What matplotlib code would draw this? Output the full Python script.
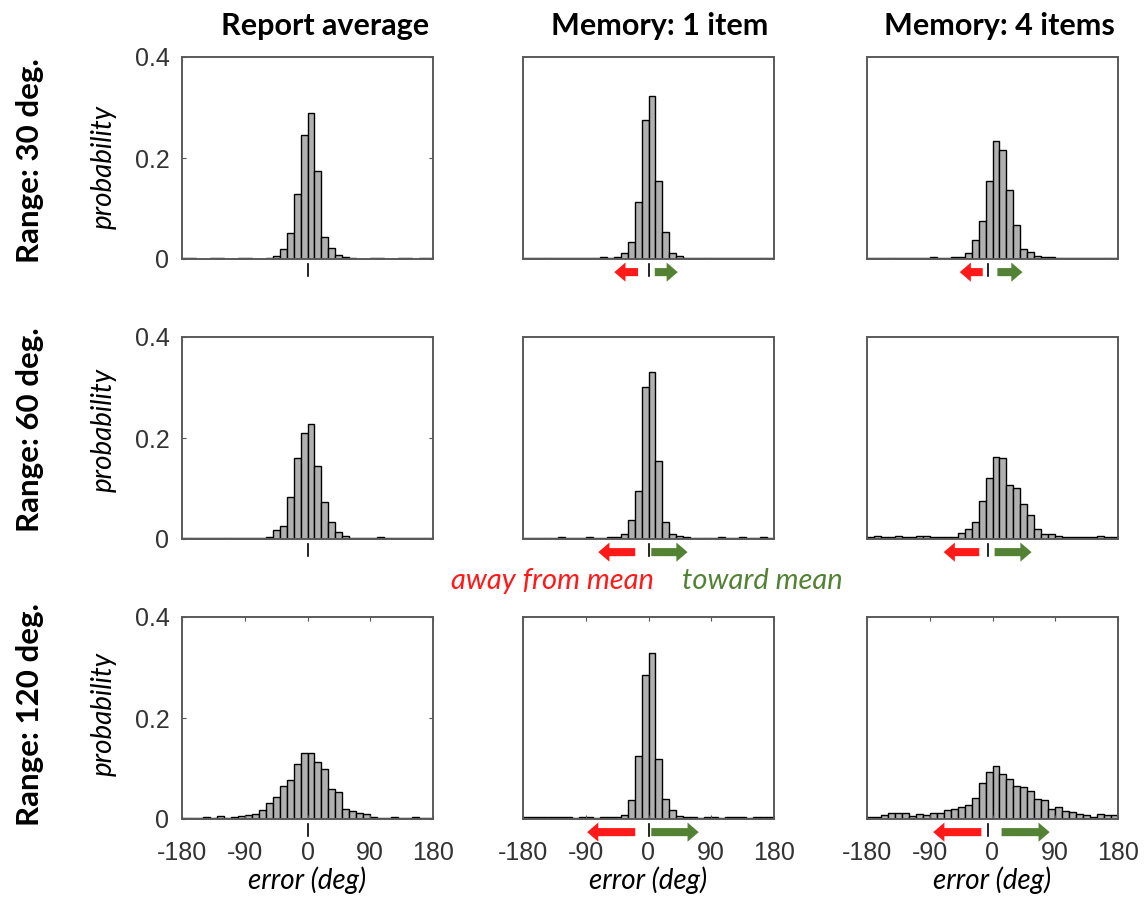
import numpy as np
import matplotlib
matplotlib.use("Agg")
import matplotlib.pyplot as plt
from matplotlib.patches import FancyArrow

# bins of 10 deg from -180 to 180
bin_edges = np.arange(-180, 181, 10)
col_titles = ["Report average", "Memory: 1 item", "Memory: 4 items"]
row_labels = ["Range: 30 deg.", "Range: 60 deg.", "Range: 120 deg."]
xtick_vals = [-180, -90, 0, 90, 180]
xtick_labels = ["-180", "-90", "0", "90", "180"]
ytick_vals = [0, 0.2, 0.4]
ytick_labels = ["0", "0.2", "0.4"]

# probability per bin (36 bins)
r30_avg = [0.002, 0.002, 0, 0, 0.002, 0.002, 0, 0, 0.002, 0.002, 0, 0, 0.002,
           0.005, 0.019, 0.052, 0.129, 0.246, 0.290, 0.174, 0.044, 0.021, 0.008, 0.003,
           0.001, 0, 0, 0.002, 0.002, 0, 0, 0.002, 0.002, 0, 0.002, 0.002]
r30_m1 = [0.002, 0.001, 0.001, 0.001, 0.001, 0.001, 0.001, 0.001, 0.002, 0.001, 0.001, 0.003, 0.001, 0.003,
          0.011, 0.034, 0.112, 0.276, 0.322, 0.154, 0.054, 0.012, 0.005, 0.002,
          0.002, 0.001, 0.001, 0.001, 0.001, 0.001, 0.001, 0.001, 0.001, 0.001, 0.001, 0.001]
r30_m4 = [0.001, 0.001, 0.001, 0.001, 0.001, 0.002, 0.001, 0.001, 0.001, 0.003, 0.001, 0.001, 0.003,
          0.004, 0.012, 0.038, 0.075, 0.155, 0.233, 0.216, 0.137, 0.068, 0.020, 0.013, 0.005, 0.003,
          0.003, 0.002, 0.002, 0.001, 0.001, 0.001, 0.001, 0.001, 0.001, 0.002]
r60_avg = [0.002, 0.002, 0.002, 0.001, 0.002, 0.002, 0.001, 0.002, 0.002, 0.001, 0.002,
           0.002, 0.004, 0.018, 0.025, 0.083, 0.161, 0.210, 0.227, 0.145, 0.073, 0.033, 0.013, 0.005,
           0.002, 0.002, 0.001, 0.002, 0.003, 0.002, 0.002, 0.002, 0.001, 0.002, 0.002, 0.002]
r60_m1 = [0.002, 0.002, 0.002, 0.002, 0.002, 0.004, 0.002, 0.002, 0.002, 0.003, 0.002, 0.002, 0.003, 0.004,
          0.009, 0.038, 0.096, 0.301, 0.331, 0.155, 0.033, 0.009, 0.005,
          0.003, 0.002, 0.002, 0.002, 0.002, 0.003, 0.002, 0.002, 0.003, 0.002, 0.002, 0.004, 0.002]
r60_m4 = [0.004, 0.005, 0.004, 0.003, 0.005, 0.004, 0.003, 0.005, 0.005, 0.004, 0.004, 0.004, 0.004,
          0.012, 0.019, 0.033, 0.075, 0.121, 0.162, 0.161, 0.106, 0.101, 0.070, 0.048, 0.019, 0.010, 0.009, 0.005,
          0.003, 0.004, 0.004, 0.003, 0.004, 0.005, 0.003, 0.004]
r120_avg = [0.002, 0.002, 0.002, 0.003, 0.002, 0.006, 0.002, 0.003,
            0.005, 0.007, 0.010, 0.017, 0.032, 0.044, 0.065, 0.078, 0.108, 0.131, 0.131, 0.113,
            0.099, 0.060, 0.054, 0.020, 0.015, 0.011, 0.010, 0.004,
            0.002, 0.002, 0.003, 0.002, 0.002, 0.003, 0.002, 0.002]
r120_m1 = [0.003, 0.003, 0.004, 0.003, 0.004, 0.003, 0.003, 0.002, 0.003, 0.003, 0.002, 0.003, 0.003, 0.004,
           0.007, 0.038, 0.124, 0.285, 0.329, 0.118, 0.040, 0.017, 0.005,
           0.003, 0.003, 0.002, 0.003, 0.003, 0.002, 0.003, 0.004, 0.003, 0.002, 0.003, 0.003, 0.004]
r120_m4 = [0.004, 0.004, 0.007, 0.011, 0.011, 0.011, 0.005, 0.009, 0.007, 0.011, 0.011, 0.017,
           0.019, 0.024, 0.028, 0.042, 0.071, 0.093, 0.104, 0.090, 0.080, 0.066, 0.063, 0.056,
           0.040, 0.037, 0.020, 0.024, 0.015, 0.013, 0.009, 0.007, 0.004, 0.009, 0.007, 0.007]

hists = [[r30_avg, r30_m1, r30_m4],
         [r60_avg, r60_m1, r60_m4],
         [r120_avg, r120_m1, r120_m4]]

# arrow extents (deg): (red tail, red tip, green tail, green tip) for memory columns
arrows = {(0, 1): (-15, -49, 9, 42), (0, 2): (-14, -47, 7, 43),
          (1, 1): (-19, -72, 4, 56), (1, 2): (-19, -70, 3, 56),
          (2, 1): (-19, -88, 4, 72), (2, 2): (-16, -85, 13, 82)}
mark_x = [0, 0, -7]

W, H = 1144, 899
fig = plt.figure(figsize=(W / 100, H / 100), dpi=100)

def fx(x):
    return x / W

def fy(y):
    return 1 - y / H

col_left = [182, 523, 867]
col_w = 251
row_top = [57, 337, 617]
row_h = 202

centers = (bin_edges[:-1] + bin_edges[1:]) / 2
tick_col = "#333333"
red = "#ff1a1a"
green = "#548235"
sans = ["Lato", "DejaVu Sans"]

for r in range(3):
    for c in range(3):
        ax = fig.add_axes([fx(col_left[c]), fy(row_top[r] + row_h), col_w / W, row_h / H])
        ax.bar(centers, hists[r][c], width=10, color="#b0b0b0", edgecolor="black", linewidth=1.0)
        ax.set_xlim(-180, 180)
        ax.set_ylim(0, 0.4)
        for s in ax.spines.values():
            s.set_color("#5a5a5a")
            s.set_linewidth(1.4)
        ax.tick_params(direction="in", length=3, colors="#555555", labelcolor=tick_col,
                       labelsize=18, top=(r == 2), right=(c == 0))
        if c == 0:
            ax.set_yticks(ytick_vals)
            ax.set_yticklabels(ytick_labels, family="Liberation Sans")
            ax.tick_params(axis="y", pad=9)
        else:
            ax.set_yticks([])
        if r == 2:
            ax.set_xticks(xtick_vals)
            ax.set_xticklabels(xtick_labels, family="Liberation Sans")
            ax.tick_params(axis="x", pad=16)
        else:
            ax.set_xticks([])
        # marker below the axis
        ax.plot([mark_x[c], mark_x[c]], [-0.01, -0.034], color="black", lw=1.2, clip_on=False)
        if (r, c) in arrows:
            rt, rh, gt, gh = arrows[(r, c)]
            for t, h, col in [(rt, rh, red), (gt, gh, green)]:
                ax.add_patch(FancyArrow(t, -0.026, h - t, 0, width=0.016, head_width=0.038,
                                        head_length=16, length_includes_head=True,
                                        color=col, clip_on=False, lw=0))

title_x = [325, 660, 999]
for c, t in enumerate(col_titles):
    fig.text(fx(title_x[c]), fy(26), t, ha="center", va="center",
             family=sans, fontweight="bold", fontsize=22)

row_mid = [161, 430, 715]
prob_mid = [167, 430, 714]
for r, t in enumerate(row_labels):
    fig.text(fx(30), fy(row_mid[r]), t, ha="center", va="center", rotation=90,
             family=sans, fontweight="bold", fontsize=22.5)
    fig.text(fx(104), fy(prob_mid[r]), "probability", ha="center", va="center", rotation=90,
             family=sans, style="italic", fontsize=20)

for c in range(3):
    fig.text(fx(col_left[c] + col_w / 2), fy(880), "error (deg)", ha="center", va="center",
             family=sans, style="italic", fontsize=20)

fig.text(fx(552), fy(581), "away from mean", ha="center", va="center", color=red,
         family=sans, style="italic", fontsize=21)
fig.text(fx(762), fy(581), "toward mean", ha="center", va="center", color=green,
         family=sans, style="italic", fontsize=21)

fig.savefig("out.png", dpi=100)
